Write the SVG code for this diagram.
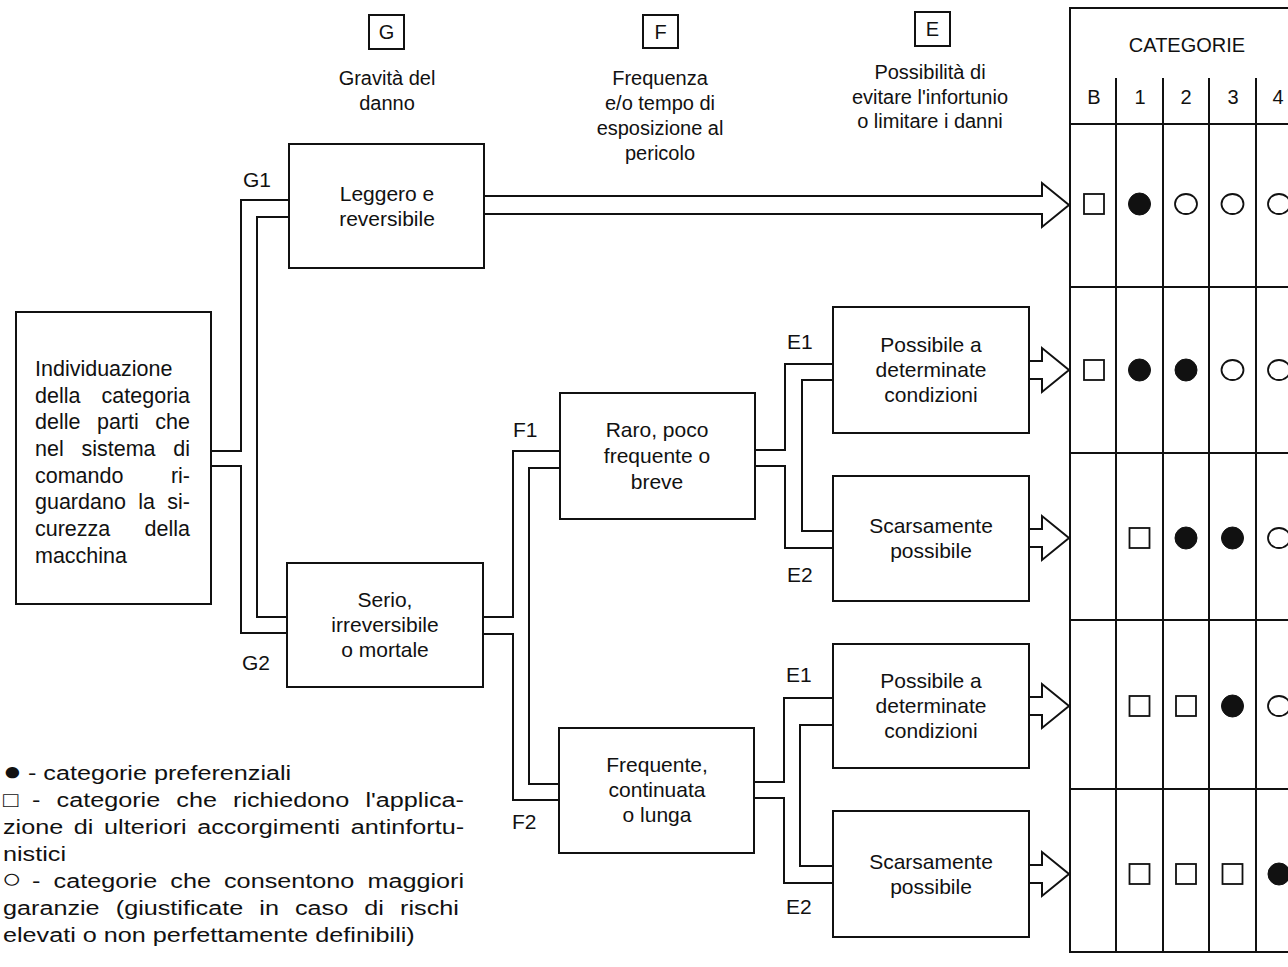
<svg xmlns="http://www.w3.org/2000/svg" width="1288" height="967" viewBox="0 0 1288 967">
<style>
.bg{fill:#fff}
.box{fill:#fff;stroke:#111;stroke-width:2}
.ln{fill:none;stroke:#111;stroke-width:2;stroke-linejoin:miter}
.ar{fill:#fff;stroke:#111;stroke-width:2;stroke-linejoin:miter}
.t{font-family:"Liberation Sans",Arial,sans-serif;font-size:21px;fill:#111}
.h{font-family:"Liberation Sans",Arial,sans-serif;font-size:20px;fill:#111;text-anchor:middle}
.c{text-anchor:middle}
.lg{font-family:"Liberation Sans",Arial,sans-serif;font-size:21px;fill:#111}
.full{fill:#111;stroke:#111;stroke-width:1}
.open{fill:#fff;stroke:#111;stroke-width:1.8}
</style>
<rect class="bg" x="0" y="0" width="1288" height="967"/>

<!-- headers -->
<g id="header-G">
<rect class="box" x="369" y="15" width="35" height="34"/>
<text class="h" x="386.5" y="39">G</text>
<text class="h" x="387" y="85">Gravità del</text>
<text class="h" x="387" y="110">danno</text>
</g>
<g id="header-F">
<rect class="box" x="643" y="15" width="35" height="33"/>
<text class="h" x="660.5" y="39">F</text>
<text class="h" x="660" y="85">Frequenza</text>
<text class="h" x="660" y="110">e/o tempo di</text>
<text class="h" x="660" y="135">esposizione al</text>
<text class="h" x="660" y="160">pericolo</text>
</g>
<g id="header-E">
<rect class="box" x="915" y="12" width="35" height="34"/>
<text class="h" x="932.5" y="36">E</text>
<text class="h" x="930" y="79">Possibilità di</text>
<text class="h" x="930" y="104">evitare l'infortunio</text>
<text class="h" x="930" y="128">o limitare i danni</text>
</g>

<!-- connectors -->
<g id="connectors">
<path class="ln" d="M211,451 H241 V200 H289"/>
<path class="ln" d="M211,466 H241 V633 H287"/>
<path class="ln" d="M289,217 H257 V617 H287"/>
<path class="ln" d="M483,617 H513 V451 H560"/>
<path class="ln" d="M483,634 H513 V800 H559"/>
<path class="ln" d="M560,468 H529 V784 H559"/>
<path class="ln" d="M755,450 H785 V364 H833"/>
<path class="ln" d="M755,466 H785 V548 H833"/>
<path class="ln" d="M833,380 H802 V531 H833"/>
<path class="ln" d="M754,782 H784 V698 H833"/>
<path class="ln" d="M754,798 H784 V883 H833"/>
<path class="ln" d="M833,725 H800 V866 H833"/>
<path class="ar" d="M484,196 H1042 V183 L1069,205 L1042,227 V214 H484"/>
<path class="ar" d="M1029,361 H1042 V348 L1069,370 L1042,392 V379 H1029"/>
<path class="ar" d="M1029,529 H1042 V516 L1069,538 L1042,560 V547 H1029"/>
<path class="ar" d="M1029,697 H1042 V684 L1069,706 L1042,728 V715 H1029"/>
<path class="ar" d="M1029,865 H1042 V852 L1069,874 L1042,896 V883 H1029"/>
</g>
<g id="labels">
<text class="t" x="243" y="187">G1</text>
<text class="t" x="242" y="670">G2</text>
<text class="t" x="513" y="437">F1</text>
<text class="t" x="512" y="829">F2</text>
<text class="t" x="787" y="349">E1</text>
<text class="t" x="787" y="582">E2</text>
<text class="t" x="786" y="682">E1</text>
<text class="t" x="786" y="914">E2</text>
</g>

<!-- nodes -->
<g id="node-start">
<rect class="box" x="16" y="312" width="195" height="292"/>
<text class="t" style="font-size:21.5px">
<tspan x="35" y="376">Individuazione</tspan>
<tspan x="35" y="402.7">della</tspan><tspan x="101.6" y="402.7">categoria</tspan>
<tspan x="35" y="429.3">delle</tspan><tspan x="97" y="429.3">parti</tspan><tspan x="155.3" y="429.3">che</tspan>
<tspan x="35" y="456">nel</tspan><tspan x="81.5" y="456">sistema</tspan><tspan x="173.3" y="456">di</tspan>
<tspan x="35" y="482.7">comando</tspan><tspan x="170.9" y="482.7">ri-</tspan>
<tspan x="35" y="509.3">guardano</tspan><tspan x="138.2" y="509.3">la</tspan><tspan x="167.3" y="509.3">si-</tspan>
<tspan x="35" y="536">curezza</tspan><tspan x="144.6" y="536">della</tspan>
<tspan x="35" y="562.7">macchina</tspan>
</text>
</g>
<g id="node-G1">
<rect class="box" x="289" y="144" width="195" height="124"/>
<text class="t c" x="387" y="201">Leggero e</text>
<text class="t c" x="387" y="226">reversibile</text>
</g>
<g id="node-G2">
<rect class="box" x="287" y="563" width="196" height="124"/>
<text class="t c" x="385" y="607">Serio,</text>
<text class="t c" x="385" y="632">irreversibile</text>
<text class="t c" x="385" y="657">o mortale</text>
</g>
<g id="node-F1">
<rect class="box" x="560" y="393" width="195" height="126"/>
<text class="t c" x="657" y="437">Raro, poco</text>
<text class="t c" x="657" y="463">frequente o</text>
<text class="t c" x="657" y="489">breve</text>
</g>
<g id="node-F2">
<rect class="box" x="559" y="728" width="195" height="125"/>
<text class="t c" x="657" y="772">Frequente,</text>
<text class="t c" x="657" y="797">continuata</text>
<text class="t c" x="657" y="822">o lunga</text>
</g>
<g id="node-E1a">
<rect class="box" x="833" y="307" width="196" height="126"/>
<text class="t c" x="931" y="352">Possibile a</text>
<text class="t c" x="931" y="377">determinate</text>
<text class="t c" x="931" y="402">condizioni</text>
</g>
<g id="node-E2a">
<rect class="box" x="833" y="476" width="196" height="125"/>
<text class="t c" x="931" y="533">Scarsamente</text>
<text class="t c" x="931" y="558">possibile</text>
</g>
<g id="node-E1b">
<rect class="box" x="833" y="644" width="196" height="124"/>
<text class="t c" x="931" y="688">Possibile a</text>
<text class="t c" x="931" y="713">determinate</text>
<text class="t c" x="931" y="738">condizioni</text>
</g>
<g id="node-E2b">
<rect class="box" x="833" y="811" width="196" height="126"/>
<text class="t c" x="931" y="869">Scarsamente</text>
<text class="t c" x="931" y="894">possibile</text>
</g>

<!-- categories table -->
<g id="table">
<path class="ln" d="M1300,8 H1070 V952 H1300"/>
<path class="ln" d="M1070,124 H1300 M1070,287 H1300 M1070,453 H1300 M1070,620 H1300 M1070,789 H1300"/>
<path class="ln" d="M1116,78 V952 M1163,78 V952 M1209,78 V952 M1256,78 V952"/>
<text class="h" x="1187" y="52">CATEGORIE</text>
<text class="h" x="1094" y="104">B</text>
<text class="h" x="1140" y="104">1</text>
<text class="h" x="1186" y="104">2</text>
<text class="h" x="1233" y="104">3</text>
<text class="h" x="1278" y="104">4</text>
<!-- row 1 -->
<rect class="open" x="1084" y="194" width="20" height="20"/>
<circle class="full" cx="1139.5" cy="204" r="11"/>
<ellipse class="open" cx="1186" cy="204" rx="11" ry="10"/>
<ellipse class="open" cx="1232.5" cy="204" rx="11" ry="10"/>
<ellipse class="open" cx="1279" cy="204" rx="11" ry="10"/>
<!-- row 2 -->
<rect class="open" x="1084" y="360" width="20" height="20"/>
<circle class="full" cx="1139.5" cy="370" r="11"/>
<circle class="full" cx="1186" cy="370" r="11"/>
<ellipse class="open" cx="1232.5" cy="370" rx="11" ry="10"/>
<ellipse class="open" cx="1279" cy="370" rx="11" ry="10"/>
<!-- row 3 -->
<rect class="open" x="1129.5" y="528" width="20" height="20"/>
<circle class="full" cx="1186" cy="538" r="11"/>
<circle class="full" cx="1232.5" cy="538" r="11"/>
<ellipse class="open" cx="1279" cy="538" rx="11" ry="10"/>
<!-- row 4 -->
<rect class="open" x="1129.5" y="696" width="20" height="20"/>
<rect class="open" x="1176" y="696" width="20" height="20"/>
<circle class="full" cx="1232.5" cy="706" r="11"/>
<ellipse class="open" cx="1279" cy="706" rx="11" ry="10"/>
<!-- row 5 -->
<rect class="open" x="1129.5" y="864" width="20" height="20"/>
<rect class="open" x="1176" y="864" width="20" height="20"/>
<rect class="open" x="1222.5" y="864" width="20" height="20"/>
<circle class="full" cx="1279" cy="874" r="11"/>
</g>

<!-- legend -->
<g id="legend" class="lg">
<text transform="translate(3,780) scale(1.2,1)"><tspan x="0" style="font-size:26px">●</tspan><tspan x="20.8">- categorie preferenziali</tspan></text>
<text transform="translate(3,807) scale(1.2,1)"><tspan x="0">□</tspan><tspan x="24.2" style="word-spacing:7.6px">- categorie che richiedono l'applica-</tspan></text>
<text transform="translate(3,834) scale(1.2,1)" style="word-spacing:3px">zione di ulteriori accorgimenti antinfortu-</text>
<text transform="translate(3,861) scale(1.2,1)">nistici</text>
<text transform="translate(3,888) scale(1.2,1)"><tspan x="-1" style="font-size:28px">○</tspan><tspan x="24.2" style="word-spacing:5.1px">- categorie che consentono maggiori</tspan></text>
<text transform="translate(3,915) scale(1.2,1)" style="word-spacing:7.6px">garanzie (giustificate in caso di rischi</text>
<text transform="translate(3,942) scale(1.2,1)">elevati o non perfettamente definibili)</text>
</g>
</svg>
